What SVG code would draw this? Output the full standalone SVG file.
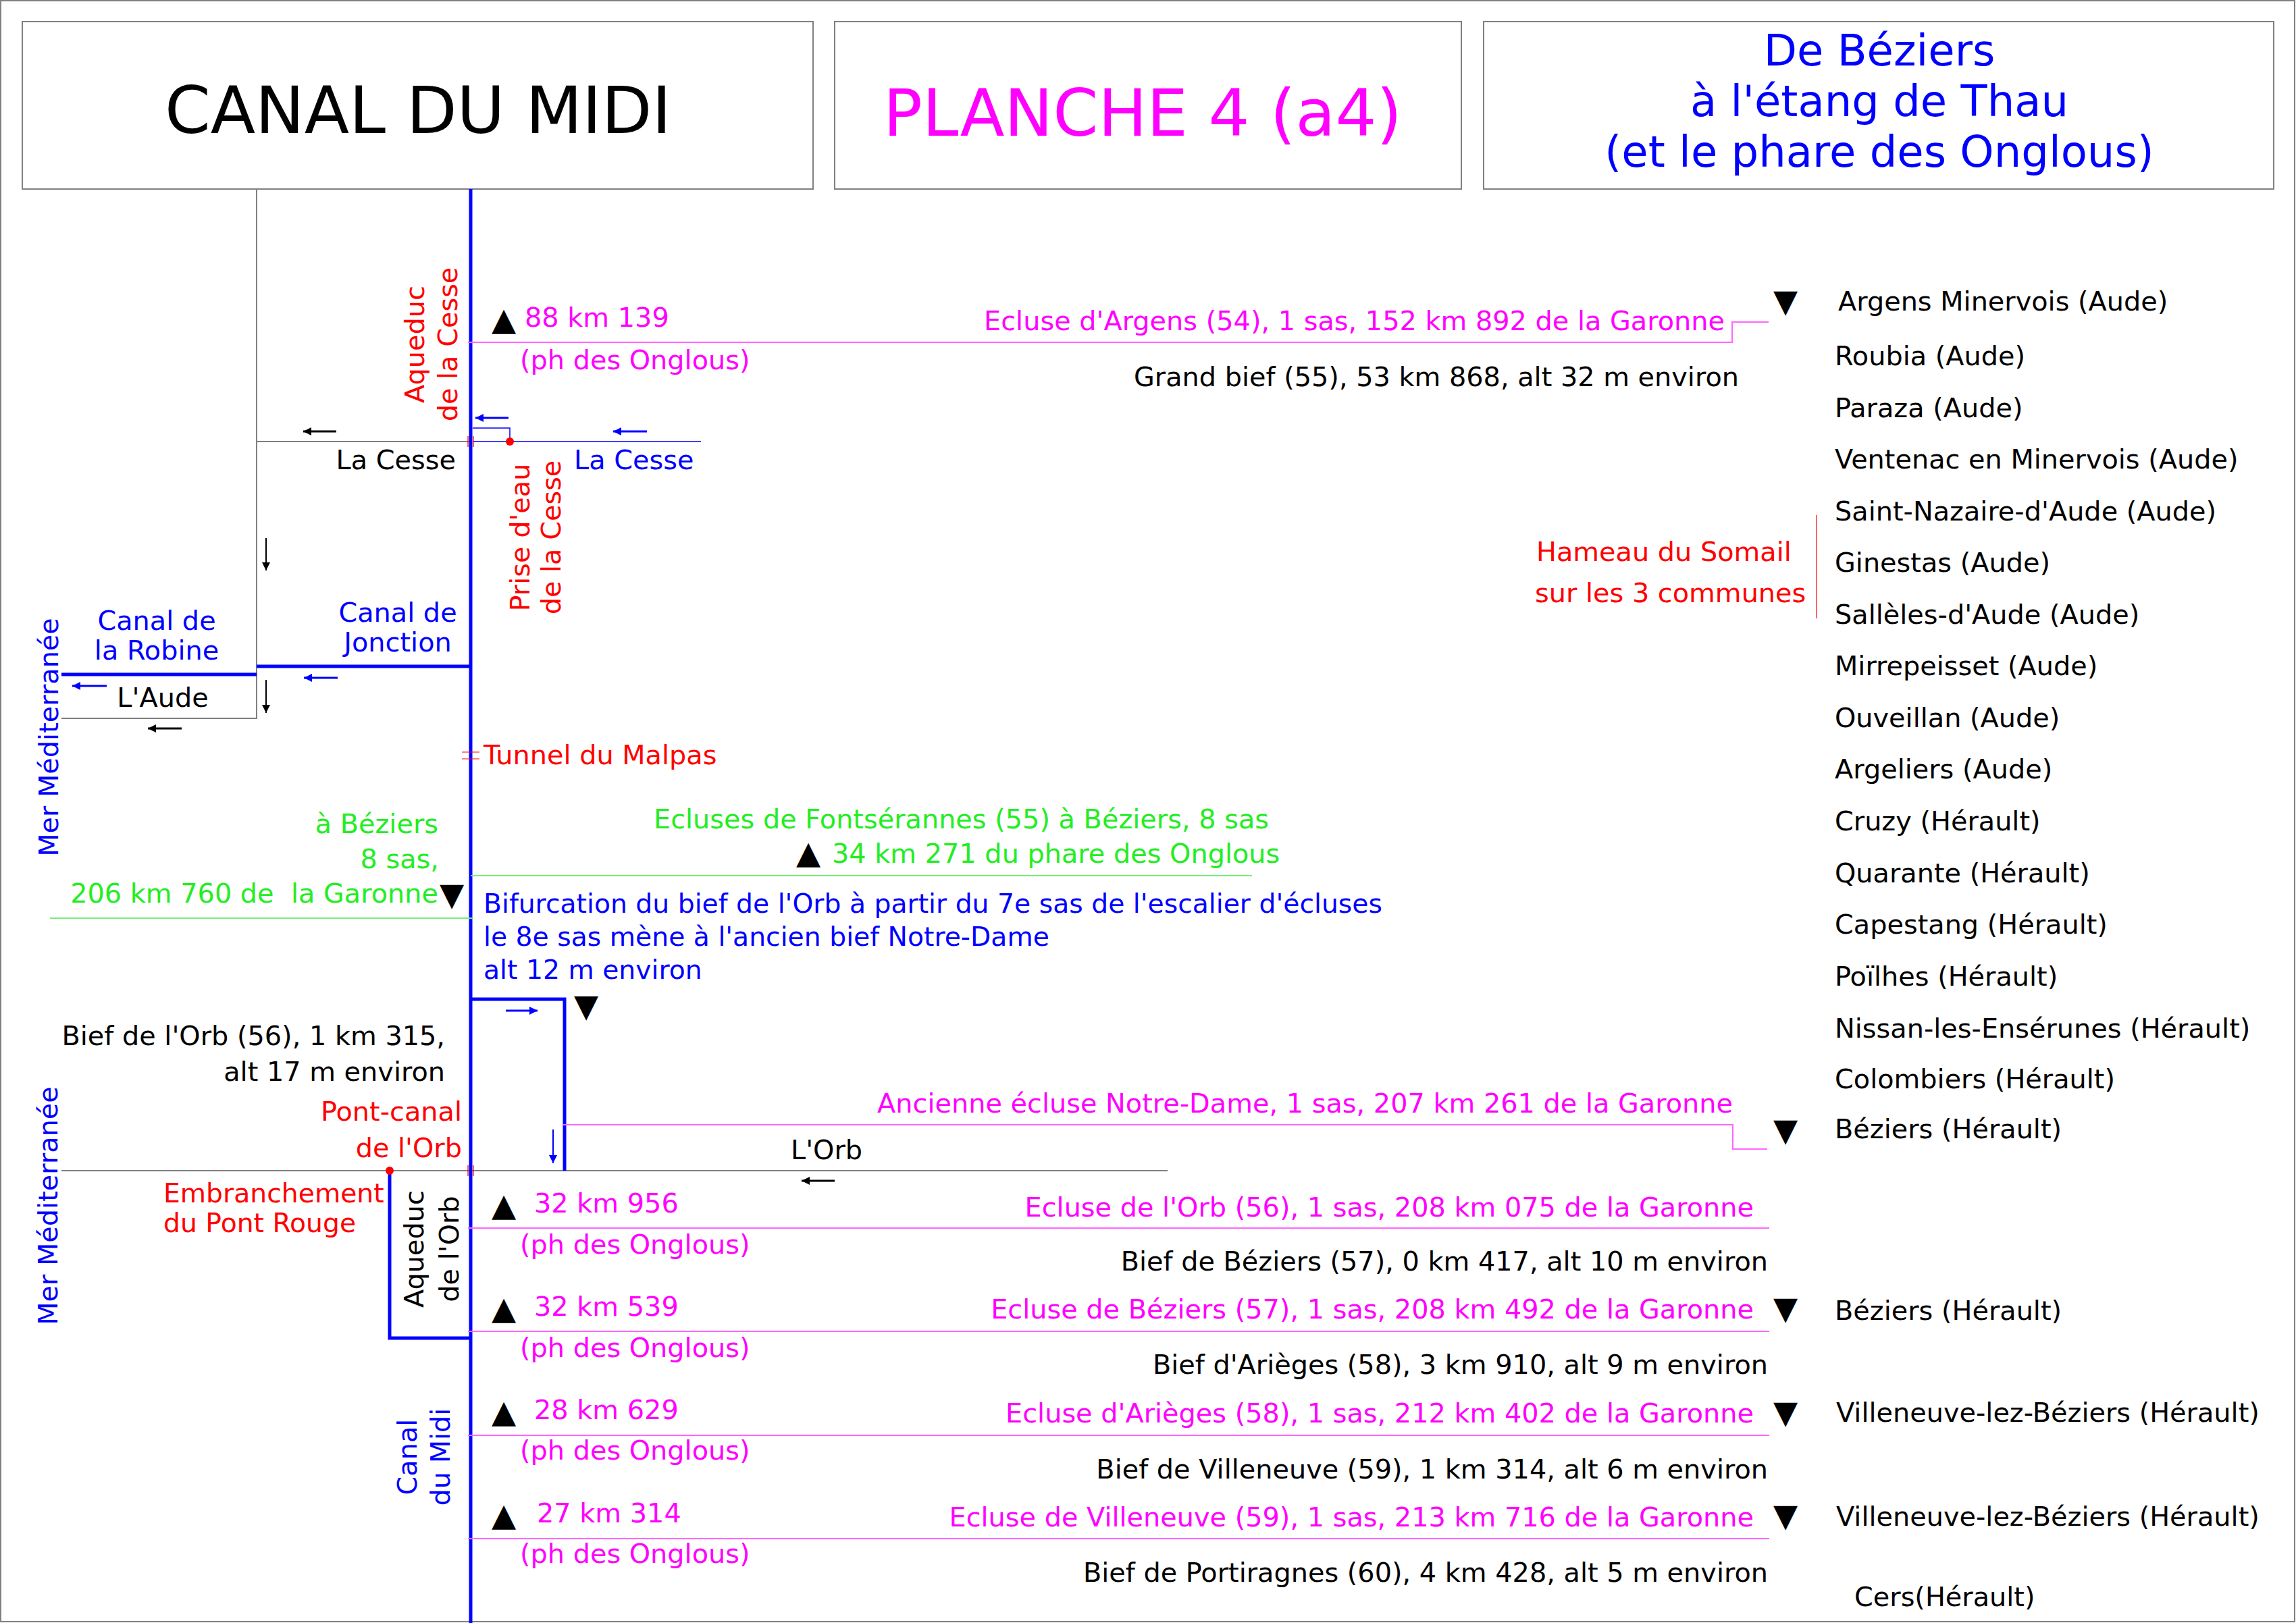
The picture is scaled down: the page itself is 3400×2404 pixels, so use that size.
<svg xmlns="http://www.w3.org/2000/svg" width="3400" height="2404" viewBox="0 0 3400 2404">
<defs>
<style>
.t{font-family:"DejaVu Sans","Liberation Sans",sans-serif;font-size:39.8px}
.tri{font-size:47px}
.nar{font-size:39.3px}
.k{fill:#000}.b{fill:#0000ff}.m{fill:#ff00ff}.r{fill:#ff0000}.g{fill:#22ee22}
.e{text-anchor:end}.c{text-anchor:middle}
.gl{stroke:#808080;stroke-width:2;fill:none}
.bl{stroke:#0000ff;stroke-width:5;fill:none}
.bt{stroke:#0000ff;stroke-width:1.5;fill:none}
.pl{stroke:#ff66ff;stroke-width:2;fill:none}
.grl{stroke:#77ee77;stroke-width:2;fill:none}
.rl{stroke:#ff0000;stroke-width:1.2;fill:none}
.ak{stroke:#000;stroke-width:3;fill:none;marker-end:url(#hk)}
.ab{stroke:#0000ff;stroke-width:3;fill:none;marker-end:url(#hb)}
.box{fill:#fff;stroke:#808080;stroke-width:2}
</style>
<marker id="hk" viewBox="0 0 10 10" refX="10" refY="5" markerUnits="userSpaceOnUse" markerWidth="20" markerHeight="12" orient="auto"><path d="M0,0 L10,5 L0,10 z" fill="#000"/></marker>
<marker id="hb" viewBox="0 0 10 10" refX="10" refY="5" markerUnits="userSpaceOnUse" markerWidth="20" markerHeight="12" orient="auto"><path d="M0,0 L10,5 L0,10 z" fill="#0000ff"/></marker>
</defs>
<rect x="0" y="0" width="3400" height="2404" fill="#fff"/>
<rect x="1" y="1" width="3397" height="2401" fill="none" stroke="#808080" stroke-width="2"/>

<g id="header-title">
<rect class="box" x="33" y="32" width="1171" height="248"/>
<text class="k c" x="619" y="197" style="font-family:'DejaVu Sans','Liberation Sans',sans-serif;font-size:97px">CANAL DU MIDI</text>
</g>
<g id="header-planche">
<rect class="box" x="1236" y="32" width="928" height="248"/>
<text class="m c" x="1692" y="201" style="font-family:'DejaVu Sans','Liberation Sans',sans-serif;font-size:96px">PLANCHE 4 (a4)</text>
</g>
<g id="header-route">
<rect class="box" x="2197" y="32" width="1170" height="248"/>
<g class="b c" style="font-family:'DejaVu Sans','Liberation Sans',sans-serif;font-size:64px">
<text x="2783" y="97">De Béziers</text>
<text x="2783" y="172">à l'étang de Thau</text>
<text x="2783" y="247">(et le phare des Onglous)</text>
</g>
</g>

<g id="connectors">
<path class="gl" d="M380,280 V1064 H91"/>
<path class="gl" d="M380,654 H697"/>
<path class="gl" d="M91,1734 H1729"/>
<path class="bl" d="M697,280 V2404"/>
<path class="bl" d="M380,987 H697"/>
<path class="bl" d="M91,999 H380"/>
<path class="bl" d="M697,1480 H836 V1734"/>
<path class="bl" d="M577,1734 V1982 H697"/>
<path class="bt" d="M700,654 H1038"/>
<path class="bt" d="M700,634 H755 V654"/>
<path class="pl" d="M693,507 H2565 V477 H2619"/>
<path class="pl" d="M834,1666 H2566 V1702 H2617"/>
<path class="pl" d="M693,1819 H2620"/>
<path class="pl" d="M693,1972 H2620"/>
<path class="pl" d="M693,2126 H2620"/>
<path class="pl" d="M693,2279 H2620"/>
<path class="grl" d="M697,1297 H1854"/>
<path class="grl" d="M74,1360 H701"/>
<path class="rl" d="M2690,763 V916"/>
<path class="rl" d="M684,1114 H710 M684,1124 H710"/>
<path class="rl" d="M693,646 V662 M701,646 V662"/>
<path class="rl" d="M693,1726 V1742 M701,1726 V1742"/>
<circle cx="755" cy="654" r="6" fill="#ff0000"/>
<circle cx="577" cy="1734" r="6" fill="#ff0000"/>
<path class="ak" d="M498,639 H449"/>
<path class="ab" d="M753,619 H704"/>
<path class="ab" d="M958,639 H908"/>
<path class="ak" d="M394,797 V845" style="stroke-width:2"/>
<path class="ak" d="M394,1007 V1056" style="stroke-width:2"/>
<path class="ab" d="M500,1004 H450"/>
<path class="ab" d="M158,1016 H107"/>
<path class="ak" d="M269,1079 H219"/>
<path class="ab" d="M749,1497 H796"/>
<path class="ab" d="M819,1673 V1723" style="stroke-width:2"/>
<path class="ak" d="M1236,1749 H1187"/>
</g>

<g id="rotated-labels" class="t">
<g class="r c">
<text transform="translate(628,510) rotate(-90)">Aqueduc</text>
<text transform="translate(677,510) rotate(-90)">de la Cesse</text>
<text transform="translate(784,796) rotate(-90)">Prise d'eau</text>
<text transform="translate(830,796) rotate(-90)">de la Cesse</text>
</g>
<g class="k c">
<text transform="translate(627,1850) rotate(-90)">Aqueduc</text>
<text transform="translate(679,1850) rotate(-90)">de l'Orb</text>
</g>
<g class="b c">
<text transform="translate(617,2158) rotate(-90)">Canal</text>
<text transform="translate(666,2158) rotate(-90)">du Midi</text>
<text transform="translate(86,1092) rotate(-90)">Mer Méditerranée</text>
<text transform="translate(85,1786) rotate(-90)">Mer Méditerranée</text>
</g>
</g>

<g id="left-labels" class="t">
<text class="k e" x="675" y="695">La Cesse</text>
<text class="b" x="850" y="695">La Cesse</text>
<text class="b c" x="589" y="921">Canal de</text>
<text class="b c" x="589" y="965">Jonction</text>
<text class="b c" x="232" y="933">Canal de</text>
<text class="b c" x="232" y="977">la Robine</text>
<text class="k c" x="241" y="1047">L'Aude</text>
<text class="r" x="716" y="1132">Tunnel du Malpas</text>
<text class="g e" x="649" y="1234">à Béziers</text>
<text class="g e" x="650" y="1286">8 sas,</text>
<text class="g e" x="649" y="1337" style="white-space:pre">206 km 760 de  la Garonne</text>
<text class="k tri" x="651" y="1341">▼</text>
<text class="k e" x="659" y="1548">Bief de l'Orb (56), 1 km 315,</text>
<text class="k e" x="659" y="1601">alt 17 m environ</text>
<text class="r e" x="684" y="1660">Pont-canal</text>
<text class="r e" x="684" y="1714">de l'Orb</text>
<text class="r nar" x="242" y="1781">Embranchement</text>
<text class="r nar" x="242" y="1825">du Pont Rouge</text>
</g>

<g id="km-markers" class="t">
<text class="k tri" x="728" y="489">▲</text>
<text class="m" x="777" y="484">88 km 139</text>
<text class="m" x="770" y="547">(ph des Onglous)</text>
<text class="k tri" x="728" y="1801">▲</text>
<text class="m" x="791" y="1796">32 km 956</text>
<text class="m" x="770" y="1857">(ph des Onglous)</text>
<text class="k tri" x="728" y="1954">▲</text>
<text class="m" x="791" y="1949">32 km 539</text>
<text class="m" x="770" y="2010">(ph des Onglous)</text>
<text class="k tri" x="728" y="2107">▲</text>
<text class="m" x="791" y="2102">28 km 629</text>
<text class="m" x="770" y="2162">(ph des Onglous)</text>
<text class="k tri" x="728" y="2260">▲</text>
<text class="m" x="795" y="2255">27 km 314</text>
<text class="m" x="770" y="2315">(ph des Onglous)</text>
</g>

<g id="middle-labels" class="t">
<text class="m e" x="2554" y="489">Ecluse d'Argens (54), 1 sas, 152 km 892 de la Garonne</text>
<text class="k e" x="2575" y="572">Grand bief (55), 53 km 868, alt 32 m environ</text>
<text class="r" x="2275" y="831">Hameau du Somail</text>
<text class="r" x="2273" y="892">sur les 3 communes</text>
<text class="g" x="968" y="1227">Ecluses de Fontsérannes (55) à Béziers, 8 sas</text>
<text class="k tri" x="1179" y="1279">▲</text>
<text class="g" x="1232" y="1278">34 km 271 du phare des Onglous</text>
<text class="b nar" x="716" y="1352">Bifurcation du bief de l'Orb à partir du 7e sas de l'escalier d'écluses</text>
<text class="b nar" x="716" y="1401">le 8e sas mène à l'ancien bief Notre-Dame</text>
<text class="b nar" x="716" y="1450">alt 12 m environ</text>
<text class="k tri" x="850" y="1506">▼</text>
<text class="m e" x="2566" y="1648">Ancienne écluse Notre-Dame, 1 sas, 207 km 261 de la Garonne</text>
<text class="k" x="1171" y="1717">L'Orb</text>
<text class="m e" x="2597" y="1802">Ecluse de l'Orb (56), 1 sas, 208 km 075 de la Garonne</text>
<text class="k e" x="2618" y="1882">Bief de Béziers (57), 0 km 417, alt 10 m environ</text>
<text class="m e" x="2597" y="1953">Ecluse de Béziers (57), 1 sas, 208 km 492 de la Garonne</text>
<text class="k e" x="2618" y="2035">Bief d'Arièges (58), 3 km 910, alt 9 m environ</text>
<text class="m e" x="2597" y="2107">Ecluse d'Arièges (58), 1 sas, 212 km 402 de la Garonne</text>
<text class="k e" x="2618" y="2190">Bief de Villeneuve (59), 1 km 314, alt 6 m environ</text>
<text class="m e" x="2597" y="2261">Ecluse de Villeneuve (59), 1 sas, 213 km 716 de la Garonne</text>
<text class="k e" x="2618" y="2343">Bief de Portiragnes (60), 4 km 428, alt 5 m environ</text>
</g>

<g id="communes" class="t k">
<text class="tri" x="2626" y="462">▼</text>
<text x="2722" y="460">Argens Minervois (Aude)</text>
<text x="2717" y="541">Roubia (Aude)</text>
<text x="2717" y="618">Paraza (Aude)</text>
<text x="2717" y="694">Ventenac en Minervois (Aude)</text>
<text x="2717" y="771">Saint-Nazaire-d'Aude (Aude)</text>
<text x="2717" y="847">Ginestas (Aude)</text>
<text x="2717" y="924">Sallèles-d'Aude (Aude)</text>
<text x="2717" y="1000">Mirrepeisset (Aude)</text>
<text x="2717" y="1077">Ouveillan (Aude)</text>
<text x="2717" y="1153">Argeliers (Aude)</text>
<text x="2717" y="1230">Cruzy (Hérault)</text>
<text x="2717" y="1307">Quarante (Hérault)</text>
<text x="2717" y="1383">Capestang (Hérault)</text>
<text x="2717" y="1460">Poïlhes (Hérault)</text>
<text x="2717" y="1537">Nissan-les-Ensérunes (Hérault)</text>
<text x="2717" y="1612">Colombiers (Hérault)</text>
<text class="tri" x="2626" y="1690">▼</text>
<text x="2717" y="1686">Béziers (Hérault)</text>
<text class="tri" x="2626" y="1954">▼</text>
<text x="2717" y="1955">Béziers (Hérault)</text>
<text class="tri" x="2626" y="2108">▼</text>
<text x="2719" y="2106">Villeneuve-lez-Béziers (Hérault)</text>
<text class="tri" x="2626" y="2261">▼</text>
<text x="2719" y="2260">Villeneuve-lez-Béziers (Hérault)</text>
<text x="2746" y="2379">Cers(Hérault)</text>
</g>
</svg>
